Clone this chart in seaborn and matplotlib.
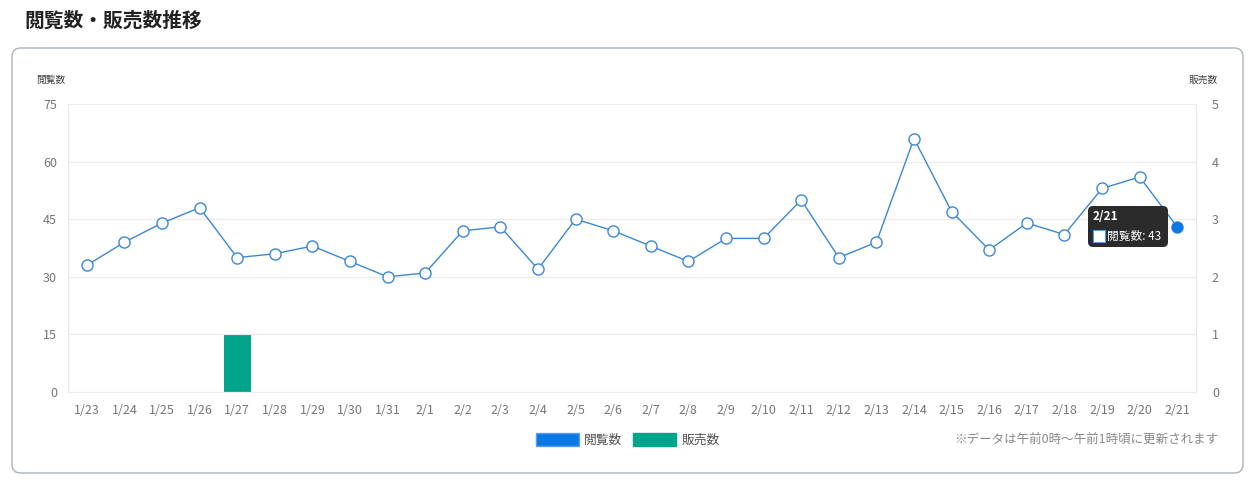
import matplotlib
matplotlib.use("Agg")
import matplotlib.pyplot as plt
from matplotlib.patches import FancyBboxPatch, Rectangle, Patch
import seaborn as sns
import pandas as pd
import numpy as np

dates = ["1/23", "1/24", "1/25", "1/26", "1/27", "1/28", "1/29", "1/30", "1/31", "2/1",
         "2/2", "2/3", "2/4", "2/5", "2/6", "2/7", "2/8", "2/9", "2/10", "2/11",
         "2/12", "2/13", "2/14", "2/15", "2/16", "2/17", "2/18", "2/19", "2/20", "2/21"]
views = [33, 39, 44, 48, 35, 36, 38, 34, 30, 31,
         42, 43, 32, 45, 42, 38, 34, 40, 40, 50,
         35, 39, 66, 47, 37, 44, 41, 53, 56, 43]
sales = [0, 0, 0, 0, 1, 0, 0, 0, 0, 0,
         0, 0, 0, 0, 0, 0, 0, 0, 0, 0,
         0, 0, 0, 0, 0, 0, 0, 0, 0, 0]
left_ticks = [0, 15, 30, 45, 60, 75]
right_ticks = [0, 1, 2, 3, 4, 5]

sns.set_style("white")
plt.rcParams['font.family'] = ['Noto Sans CJK JP', 'DejaVu Sans']

LINE = "#3a87d8"
BLUE = "#0a78e6"
TEAL = "#00a58c"
TICK = "#777777"

W, H = 1251, 488
fig = plt.figure(figsize=(W / 100, H / 100), dpi=100)

def fx(px):
    return px / W

def fy(py):
    return 1 - py / H

# card
card = FancyBboxPatch((fx(12), fy(473)), fx(1243) - fx(12), fy(48) - fy(473),
                      boxstyle="round,pad=0,rounding_size=0.007",
                      transform=fig.transFigure, facecolor="white",
                      edgecolor="#aab3bb", linewidth=1.0, mutation_aspect=W / H,
                      zorder=-10)
fig.patches.append(card)

fig.text(fx(24), fy(21), "閲覧数・販売数推移", fontsize=14.2, fontweight="bold",
         color="#222222", va="center", ha="left")

ax = fig.add_axes([fx(68), fy(392), fx(1196) - fx(68), fy(104) - fy(392)])
ax2 = ax.twinx()

df = pd.DataFrame({"date": dates, "views": views, "sales": sales})

# bars on right axis, behind line
sns.barplot(data=df, x="date", y="sales", ax=ax2, color=TEAL, width=0.72,
            saturation=1, edgecolor=TEAL, linewidth=0)
ax2.set_zorder(3)
ax.set_zorder(4)
ax.patch.set_visible(False)
ax2.patch.set_visible(False)

sns.lineplot(data=df, x="date", y="views", ax=ax, color=LINE, linewidth=1.0,
             marker="o", markersize=8, markerfacecolor="white",
             markeredgecolor=LINE, markeredgewidth=1.0, sort=False)
# highlighted last point
sns.scatterplot(x=[dates[-1]], y=[views[-1]], ax=ax, color=BLUE, s=55,
                edgecolor=BLUE, zorder=5)

ax.set_xlim(-0.5, len(dates) - 0.5)
ax.set_ylim(0, 75)
ax2.set_ylim(0, 5)
ax.set_yticks(left_ticks)
ax2.set_yticks(right_ticks)
ax.set_xlabel("")
ax.set_ylabel("")
ax2.set_xlabel("")
ax2.set_ylabel("")

ax.grid(axis="y", color="#ececec", linewidth=0.8)
ax.tick_params(axis="both", length=0, labelsize=9, colors=TICK, pad=8)
ax.tick_params(axis="x", pad=9)
ax2.tick_params(axis="y", length=0, labelsize=9, colors=TICK, pad=14,
                right=True, labelright=True)
for a in (ax, ax2):
    for s in a.spines.values():
        s.set_visible(False)
for side in ("left", "right", "bottom"):
    ax.spines[side].set_visible(True)
    ax.spines[side].set_color("#ececec")
for lbl in ax2.get_yticklabels():
    lbl.set_ha("center")

fig.text(fx(51), fy(80), "閲覧数", fontsize=7, color="#444444", ha="center", va="center")
fig.text(fx(1203), fy(80), "販売数", fontsize=7, color="#444444", ha="center", va="center")

# tooltip
tip = FancyBboxPatch((fx(1088), fy(247)), fx(1168) - fx(1088), fy(206) - fy(247),
                     boxstyle="round,pad=0,rounding_size=0.004",
                     transform=fig.transFigure, facecolor="#2b2b2b",
                     edgecolor="none", mutation_aspect=W / H, zorder=10)
fig.patches.append(tip)
fig.text(fx(1093), fy(217), "2/21", fontsize=8.5, fontweight="bold", color="white",
         ha="left", va="center", zorder=11)
fig.patches.append(Rectangle((fx(1093), fy(242)), fx(12), 12 / H,
                             transform=fig.transFigure, facecolor="white",
                             edgecolor="#5a9ee0", linewidth=0.8, zorder=11))
fig.text(fx(1107), fy(236), "閲覧数: 43", fontsize=8.5, color="white",
         ha="left", va="center", zorder=11)

# legend
handles = [Patch(facecolor=BLUE, edgecolor="#5aa0ea", label="閲覧数"),
           Patch(facecolor=TEAL, edgecolor=TEAL, label="販売数")]
fig.legend(handles=handles, loc="center", bbox_to_anchor=(fx(628), fy(440)),
           ncol=2, frameon=False, fontsize=9.2, handlelength=3.3,
           handleheight=1.1, handletextpad=0.45, columnspacing=0.85,
           labelcolor="#555555")

fig.text(fx(1218), fy(440), "※データは午前0時～午前1時頃に更新されます", fontsize=9,
         color="#888888", ha="right", va="center")

fig.savefig("out.png", dpi=100)
